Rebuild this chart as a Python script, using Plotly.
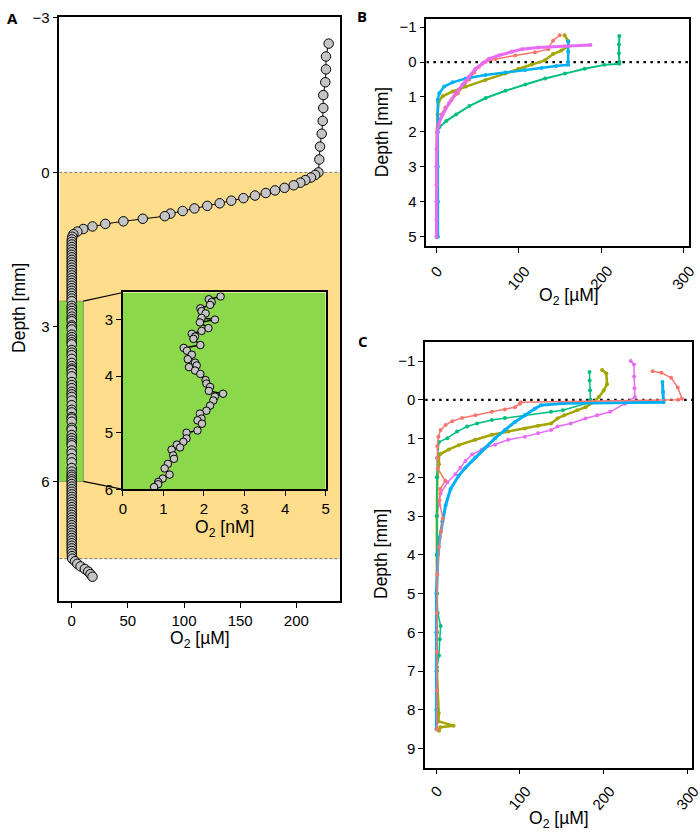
import plotly.graph_objects as go

W, H = 700, 838
FONT = "Liberation Sans, Arial, sans-serif"

# ---------------- Panel A data ----------------
a_depth_water = [-2.5, -2.25, -2.0, -1.75, -1.5, -1.25, -1.0, -0.75, -0.5, -0.25]
a_o2_water = [228.8, 226.4, 226.4, 225.8, 224.0, 224.0, 223.5, 222.6, 221.1, 220.5]

a_depth_oxic = [0.00, 0.05, 0.10, 0.15, 0.20, 0.25, 0.30, 0.35, 0.40, 0.45, 0.50, 0.55,
                0.60, 0.65, 0.70, 0.75, 0.80, 0.85, 0.90, 0.95, 1.00, 1.05, 1.10, 1.15,
                1.20, 1.25, 1.30]
a_o2_oxic = [219.7, 216.8, 213.0, 208.0, 203.6, 197.7, 189.5, 181.0, 172.8, 163.2, 152.9, 142.1,
             131.8, 120.7, 109.3, 98.8, 87.9, 82.9, 63.3, 46.0, 29.9, 18.5, 10.3, 5.0,
             1.5, 0.5, 0.1]

a_depth_anox1 = [1.35, 1.40, 1.45, 1.50, 1.55, 1.60, 1.65, 1.70, 1.75, 1.80, 1.85, 1.90,
                 1.95, 2.00, 2.05, 2.10, 2.15, 2.20, 2.25, 2.30, 2.35, 2.40, 2.45, 2.50]
a_o2_anox1 = [0.05, 0.03, 0.02, 0.01, 0.0, 0.0, 0.0, 0.0, 0.0, 0.0, 0.0, 0.0,
              0.0, 0.0, 0.0, 0.0, 0.0, 0.0, 0.0, 0.0, 0.0, 0.0, 0.0, 0.0]

# inset (nM)
inset_depth = [2.59, 2.64, 2.69, 2.74, 2.80, 2.85, 2.89, 2.97, 3.00, 3.05, 3.15, 3.20,
               3.25, 3.30, 3.34, 3.45, 3.50, 3.55, 3.62, 3.70, 3.76, 3.81, 3.84, 3.90,
               3.96, 4.07, 4.13, 4.19, 4.26, 4.31, 4.36, 4.43, 4.52, 4.61, 4.66, 4.75,
               4.78, 4.84, 4.96, 5.00, 5.10, 5.16, 5.21, 5.26, 5.30, 5.40, 5.46, 5.55,
               5.63, 5.74, 5.81, 5.87, 5.91, 5.96]
inset_o2_nM = [2.41, 2.12, 2.19, 2.15, 1.91, 1.94, 2.04, 1.94, 2.27, 1.90, 2.11, 1.94,
               1.70, 1.78, 1.74, 1.91, 1.50, 1.58, 1.70, 1.60, 1.78, 1.82, 1.63, 1.78,
               1.91, 2.04, 2.06, 2.15, 2.12, 2.47, 2.27, 2.23, 2.15, 2.06, 1.90, 1.94,
               1.84, 1.95, 1.84, 1.57, 1.57, 1.49, 1.33, 1.41, 1.20, 1.24, 1.26, 1.11,
               1.03, 1.15, 0.98, 0.87, 0.87, 0.77]

a_depth_anox2 = [6.00, 6.05, 6.10, 6.15, 6.20, 6.25, 6.30, 6.35, 6.40, 6.45, 6.50, 6.55,
                 6.60, 6.65, 6.70, 6.75, 6.80, 6.85, 6.90, 6.95, 7.00, 7.05, 7.10, 7.15,
                 7.20, 7.25, 7.30, 7.35, 7.40, 7.45]
a_o2_anox2 = [0.0, 0.0, 0.0, 0.0, 0.0, 0.0, 0.0, 0.0, 0.0, 0.0, 0.0, 0.0,
              0.0, 0.0, 0.0, 0.0, 0.0, 0.0, 0.0, 0.0, 0.0, 0.0, 0.0, 0.0,
              0.0, 0.0, 0.0, 0.0, 0.1, 0.2]

a_depth_bottom = [7.50, 7.55, 7.60, 7.65, 7.70, 7.75, 7.80, 7.85]
a_o2_bottom = [0.5, 3.0, 5.0, 7.9, 11.7, 14.7, 16.7, 18.5]

a_depth = a_depth_water + a_depth_oxic + a_depth_anox1 + inset_depth + a_depth_anox2 + a_depth_bottom
a_o2 = (a_o2_water + a_o2_oxic + a_o2_anox1 + [v / 1000 for v in inset_o2_nM]
        + a_o2_anox2 + a_o2_bottom)

SED_TOP, SED_BOTTOM = 0.0, 7.5
ZOOM_TOP, ZOOM_BOTTOM, ZOOM_XMAX = 2.5, 6.0, 10.3

# ---------------- Panel B data ----------------
COLORS = ["#F8766D", "#A3A500", "#00BF7D", "#00B0F6", "#E76BF3"]

b_salmon_depth = [-0.77, -0.61, -0.42, -0.37, -0.28, -0.19, -0.09, 0.0, 0.14, 0.3, 0.5, 0.7,
                  0.9, 1.1, 1.3, 1.5, 1.7, 1.9, 2.5, 3.0, 4.0, 5.0]
b_salmon_o2 = [149.7, 141.7, 136.0, 135.7, 119.7, 95.7, 71.7, 59.7, 51.6, 46.0, 40.0, 33.0,
               26.0, 18.0, 11.0, 6.0, 3.0, 1.5, 0.8, 0.5, 0.5, 0.5]

b_olive_depth = [-0.77, -0.6, -0.45, -0.33, -0.23, -0.05, 0.07, 0.19, 0.33, 0.51, 0.70, 0.84,
                 0.98, 1.12, 1.5, 2.0, 3.0, 4.0, 5.0]
b_olive_o2 = [155.6, 160.0, 160.0, 151.7, 141.6, 131.7, 115.7, 99.6, 83.7, 59.7, 35.7, 19.7,
              7.7, 2.9, 1.5, 0.8, 0.5, 0.5, 0.5]

b_green_depth = [-0.75, -0.5, -0.25, 0.0, 0.05, 0.08, 0.19, 0.33, 0.47, 0.64, 0.82, 1.03,
                 1.26, 1.5, 1.69, 1.87, 2.0, 2.5, 3.0, 4.0, 5.0]
b_green_o2 = [222.0, 221.5, 221.5, 222.0, 222.0, 204.0, 180.0, 156.0, 132.0, 108.0, 84.0, 60.0,
              40.0, 24.0, 12.0, 3.6, 1.5, 0.8, 0.5, 0.4, 0.4]

b_blue_depth = [-0.6, -0.3, 0.0, 0.08, 0.11, 0.17, 0.23, 0.30, 0.37, 0.47, 0.58, 0.70,
                0.89, 1.08, 2.0, 3.0, 4.0, 5.0]
b_blue_o2 = [160.0, 160.0, 160.0, 160.0, 145.7, 127.7, 107.7, 83.7, 59.7, 35.7, 19.7, 9.6,
             3.6, 1.7, 1.8, 1.8, 2.0, 2.0]

b_pink_depth = [-0.49, -0.45, -0.42, -0.37, -0.30, -0.19, -0.09, 0.05, 0.19, 0.42, 0.65, 0.89,
                1.17, 1.5, 1.78, 2.0, 2.5, 3.0, 3.5, 4.0, 4.5, 5.0]
b_pink_o2 = [186.9, 155.7, 123.7, 103.7, 91.7, 75.6, 63.6, 55.7, 47.7, 39.6, 31.7, 23.6,
             15.6, 7.7, 2.9, 1.0, 0.5, 0.3, 0.3, 0.3, 0.3, 0.3]

# ---------------- Panel C data ----------------
c_salmon_depth = [-0.74, -0.70, -0.57, -0.32, -0.03, 0.0, 0.06, 0.1, 0.19, 0.25, 0.31, 0.40,
                  0.47, 0.55, 0.65, 0.78, 0.95, 1.2, 1.5, 1.77, 2.09, 2.3, 2.6, 3.06, 3.4,
                  3.8, 4.5, 5.5, 6.5, 7.5, 8.5]
c_salmon_o2 = [258.0, 268.5, 280.0, 288.0, 293.0, 288.0, 101.0, 99.9, 94.0, 82.0, 66.5, 46.8,
               31.0, 19.3, 11.4, 5.5, 2.8, 1.5, 1.5, 2.0, 11.0, 5.0, 4.0, 8.0, 6.0,
               3.5, 1.5, 1.0, 1.0, 1.0, 1.0]

c_olive_depth = [-0.77, -0.68, -0.40, -0.24, -0.07, 0.06, 0.19, 0.27, 0.40, 0.48, 0.61, 0.67,
                 0.74, 0.82, 0.90, 1.03, 1.17, 1.28, 1.39, 1.42, 1.66, 2.0, 3.0, 4.0, 5.0,
                 6.0, 7.0, 8.08, 8.3, 8.41, 8.45, 8.54]
c_olive_o2 = [197.8, 202.9, 203.7, 199.7, 193.9, 188.0, 178.0, 168.0, 152.6, 144.7, 137.0, 121.5,
              105.8, 86.0, 66.5, 46.8, 27.0, 15.3, 5.5, 3.5, 3.5, 1.5, 1.0, 1.0, 1.0,
              1.0, 1.0, 3.2, 3.0, 20.9, 5.0, 3.5]

c_green_depth = [-0.72, -0.5, -0.25, 0.0, 0.06, 0.27, 0.31, 0.40, 0.47, 0.52, 0.61, 0.69,
                 0.82, 0.99, 1.09, 1.5, 2.0, 3.0, 4.0, 5.0, 5.5, 5.84, 6.18, 6.6, 6.9,
                 7.5, 8.0]
c_green_o2 = [182.8, 183.0, 183.5, 184.0, 184.0, 151.0, 137.0, 105.8, 82.0, 66.5, 48.8, 37.0,
              25.0, 13.4, 3.5, 1.5, 1.0, 0.8, 0.8, 1.0, 2.0, 5.5, 4.4, 3.5, 1.0,
              0.8, 0.8]

c_blue_depth = [-0.46, -0.2, 0.06, 0.09, 0.14, 0.23, 0.40, 0.57, 0.78, 0.99, 1.24, 1.49,
                1.75, 1.96, 2.3, 2.72, 3.14, 3.56, 3.98, 5.0, 6.0, 7.0, 8.0, 8.5]
c_blue_o2 = [269.7, 270.5, 271.0, 153.0, 125.0, 117.6, 105.8, 94.0, 82.0, 70.4, 58.6, 46.8,
             35.0, 27.0, 17.3, 11.4, 7.5, 4.4, 2.4, 0.5, 0.5, 0.5, 0.5, 0.5]

c_pink_depth = [-1.0, -0.91, -0.6, -0.3, -0.07, 0.06, 0.1, 0.31, 0.40, 0.48, 0.61, 0.69,
                0.78, 0.86, 0.95, 1.03, 1.16, 1.28, 1.41, 1.58, 1.75, 1.92, 2.13, 2.42,
                2.72, 3.0, 4.0, 5.0, 6.0, 7.0, 8.0, 8.5]
c_pink_o2 = [232.0, 235.8, 236.0, 236.5, 237.0, 227.0, 225.0, 207.5, 191.9, 178.0, 160.4, 144.7,
             137.0, 121.5, 105.8, 86.0, 70.4, 54.7, 43.0, 35.0, 29.0, 23.0, 13.4, 5.5,
             2.8, 1.5, 1.0, 1.0, 1.0, 1.0, 1.0, 1.0]

# ---------------- axes geometry ----------------
def dom_x(a, b):
    return [a / W, b / W]

def dom_y(top, bottom):
    return [1 - bottom / H, 1 - top / H]

A_XR, A_YR = [-11, 239], [8.33, -3.02]
B_XR, B_YR = [-12, 307], [5.27, -1.24]
C_XR, C_YR = [-13, 305], [9.49, -1.48]
I_XR, I_YR = [0, 5], [6.0, 2.52]

A_DX, A_DY = dom_x(56, 340), dom_y(9, 605)
B_DX, B_DY = dom_x(427.3, 693.3), dom_y(11, 242.7)
C_DX, C_DY = dom_x(426, 696), dom_y(341, 774.3)
I_DX, I_DY = dom_x(120.3, 325.3), dom_y(290, 490.7)

a_xticks = [0, 50, 100, 150, 200]
a_yticks = [-3, 0, 3, 6]
bc_xticks = [0, 100, 200, 300]
b_yticks = [-1, 0, 1, 2, 3, 4, 5]
c_yticks = [-1, 0, 1, 2, 3, 4, 5, 6, 7, 8, 9]
i_xticks = [0, 1, 2, 3, 4, 5]
i_yticks = [3, 4, 5, 6]

fig = go.Figure()

# Panel A main profile
fig.add_trace(go.Scatter(
    x=a_o2, y=a_depth, mode="lines+markers", xaxis="x", yaxis="y",
    line=dict(color="black", width=1),
    marker=dict(size=9.5, color="#C4C4C4", line=dict(color="black", width=1)),
    showlegend=False, hoverinfo="skip"))

# Panel B
b_series = [(b_salmon_o2, b_salmon_depth, 0, 1.5), (b_olive_o2, b_olive_depth, 1, 2.5),
            (b_green_o2, b_green_depth, 2, 2.0), (b_blue_o2, b_blue_depth, 3, 2.5),
            (b_pink_o2, b_pink_depth, 4, 3.0)]
for xs, ys, ci, lw in b_series:
    fig.add_trace(go.Scatter(x=xs, y=ys, mode="lines+markers", xaxis="x2", yaxis="y2",
                             line=dict(color=COLORS[ci], width=lw),
                             marker=dict(size=4, color=COLORS[ci]),
                             showlegend=False, hoverinfo="skip"))

# Panel C
c_series = [(c_pink_o2, c_pink_depth, 4, 1.5), (c_olive_o2, c_olive_depth, 1, 2.5),
            (c_green_o2, c_green_depth, 2, 1.5), (c_blue_o2, c_blue_depth, 3, 3.0),
            (c_salmon_o2, c_salmon_depth, 0, 1.5)]
for xs, ys, ci, lw in c_series:
    fig.add_trace(go.Scatter(x=xs, y=ys, mode="lines+markers", xaxis="x3", yaxis="y3",
                             line=dict(color=COLORS[ci], width=lw),
                             marker=dict(size=4, color=COLORS[ci]),
                             showlegend=False, hoverinfo="skip"))

# Inset
fig.add_trace(go.Scatter(
    x=inset_o2_nM, y=inset_depth, mode="lines+markers", xaxis="x4", yaxis="y4",
    line=dict(color="black", width=1.5),
    marker=dict(size=7.5, color="#C4C4C4", line=dict(color="black", width=1)),
    showlegend=False, hoverinfo="skip"))

tickfont = dict(family=FONT, size=15, color="black")

def ax(domain, rng, tickvals, anchor, showlabels=True, ticklen=5):
    return dict(domain=domain, range=rng, tickvals=tickvals, anchor=anchor,
                showgrid=False, zeroline=False, showline=True, mirror=True,
                linecolor="black", linewidth=1.5, ticks="outside", ticklen=ticklen,
                tickwidth=1, tickcolor="black", tickfont=tickfont,
                showticklabels=showlabels, fixedrange=True)

fig.update_layout(
    width=W, height=H, margin=dict(l=0, r=0, t=0, b=0),
    paper_bgcolor="white", plot_bgcolor="white",
    font=dict(family=FONT, color="black"),
    xaxis=ax(A_DX, A_XR, a_xticks, "y"),
    yaxis=ax(A_DY, A_YR, a_yticks, "x"),
    xaxis2=ax(B_DX, B_XR, bc_xticks, "y2", showlabels=False),
    yaxis2=ax(B_DY, B_YR, b_yticks, "x2"),
    xaxis3=ax(C_DX, C_XR, bc_xticks, "y3", showlabels=False),
    yaxis3=ax(C_DY, C_YR, c_yticks, "x3"),
    xaxis4=ax(I_DX, I_XR, i_xticks, "y4"),
    yaxis4=ax(I_DY, I_YR, i_yticks, "x4"),
)

ORANGE = "#FEDD8D"
GREEN = "#8BD84A"

def to_paper(v, dom, rng):
    return dom[0] + (v - rng[0]) / (rng[1] - rng[0]) * (dom[1] - dom[0])

shapes = [
    # sediment band in A
    dict(type="rect", xref="x", yref="y", x0=A_XR[0], x1=A_XR[1], y0=SED_TOP, y1=SED_BOTTOM,
         fillcolor=ORANGE, line=dict(width=0), layer="below"),
    # zoomed region in A
    dict(type="rect", xref="x", yref="y", x0=A_XR[0], x1=ZOOM_XMAX, y0=ZOOM_TOP, y1=ZOOM_BOTTOM,
         fillcolor=GREEN, line=dict(width=0.8, color="#6E8F55"), layer="below"),
    dict(type="line", xref="x", yref="y", x0=A_XR[0], x1=A_XR[1], y0=SED_TOP, y1=SED_TOP,
         line=dict(color="#555555", width=0.8, dash="3px,2px"), layer="below"),
    dict(type="line", xref="x", yref="y", x0=A_XR[0], x1=A_XR[1], y0=SED_BOTTOM, y1=SED_BOTTOM,
         line=dict(color="#555555", width=0.8, dash="3px,2px"), layer="below"),
    # inset background
    dict(type="rect", xref="x4", yref="y4", x0=I_XR[0], x1=I_XR[1], y0=I_YR[1], y1=I_YR[0],
         fillcolor=GREEN, line=dict(width=0), layer="below"),
    # dotted surface lines B, C
    dict(type="line", xref="x2", yref="y2", x0=B_XR[0], x1=B_XR[1], y0=0, y1=0,
         line=dict(color="black", width=2.2, dash="2.5px,4.5px"), layer="below"),
    dict(type="line", xref="x3", yref="y3", x0=C_XR[0], x1=C_XR[1], y0=0, y1=0,
         line=dict(color="black", width=2.2, dash="2.5px,4.5px"), layer="below"),
]
# connector lines from zoom box to inset
zx = to_paper(ZOOM_XMAX, A_DX, A_XR)
for zdepth, iy in [(ZOOM_TOP, I_DY[1]), (ZOOM_BOTTOM, I_DY[0])]:
    shapes.append(dict(type="line", xref="paper", yref="paper",
                       x0=zx, y0=to_paper(zdepth, A_DY, A_YR), x1=I_DX[0], y1=iy,
                       line=dict(color="black", width=1.2)))
fig.update_layout(shapes=shapes)

def px_x(p):
    return p / W

def px_y(p):
    return 1 - p / H

ann = []
titlefont = dict(family=FONT, size=17.5, color="black")
O2_UM = "O<sub>2</sub> [µM]"
ann.append(dict(text="Depth [mm]", x=px_x(15), y=px_y(306), textangle=-90, font=titlefont))
ann.append(dict(text=O2_UM, x=px_x(198), y=px_y(644), font=titlefont))
ann.append(dict(text="Depth [mm]", x=px_x(382), y=px_y(127), textangle=-90, font=titlefont))
ann.append(dict(text=O2_UM, x=px_x(572), y=px_y(294), font=titlefont))
ann.append(dict(text="Depth [mm]", x=px_x(382), y=px_y(557), textangle=-90, font=titlefont))
ann.append(dict(text=O2_UM, x=px_x(561), y=px_y(827), font=titlefont))
ann.append(dict(text="O<sub>2</sub> [nM]", x=px_x(223), y=px_y(531), font=titlefont))
letterfont = dict(family="Open Sans, Arial, sans-serif", size=15, color="black")
for t, x, y in [("A", 9, 10), ("B", 362, 8), ("C", 363, 339)]:
    ann.append(dict(text="<b>%s</b>" % t, x=px_x(x), y=px_y(y), font=letterfont))
for a in ann:
    a.update(xref="paper", yref="paper", showarrow=False, xanchor="center", yanchor="middle")

# rotated tick labels for B and C
for xref, top in [("x2", 257), ("x3", 787)]:
    for v in bc_xticks:
        ann.append(dict(text=str(v), x=v, xref=xref, y=px_y(top), yref="paper",
                        showarrow=False, textangle=-50, xanchor="center", yanchor="top",
                        font=tickfont))
fig.update_layout(annotations=ann)

fig.write_html("out.html", config={"displayModeBar": False},
               post_script="document.body.style.margin='0';document.body.style.padding='0';"
                           "document.body.style.overflow='hidden';")
